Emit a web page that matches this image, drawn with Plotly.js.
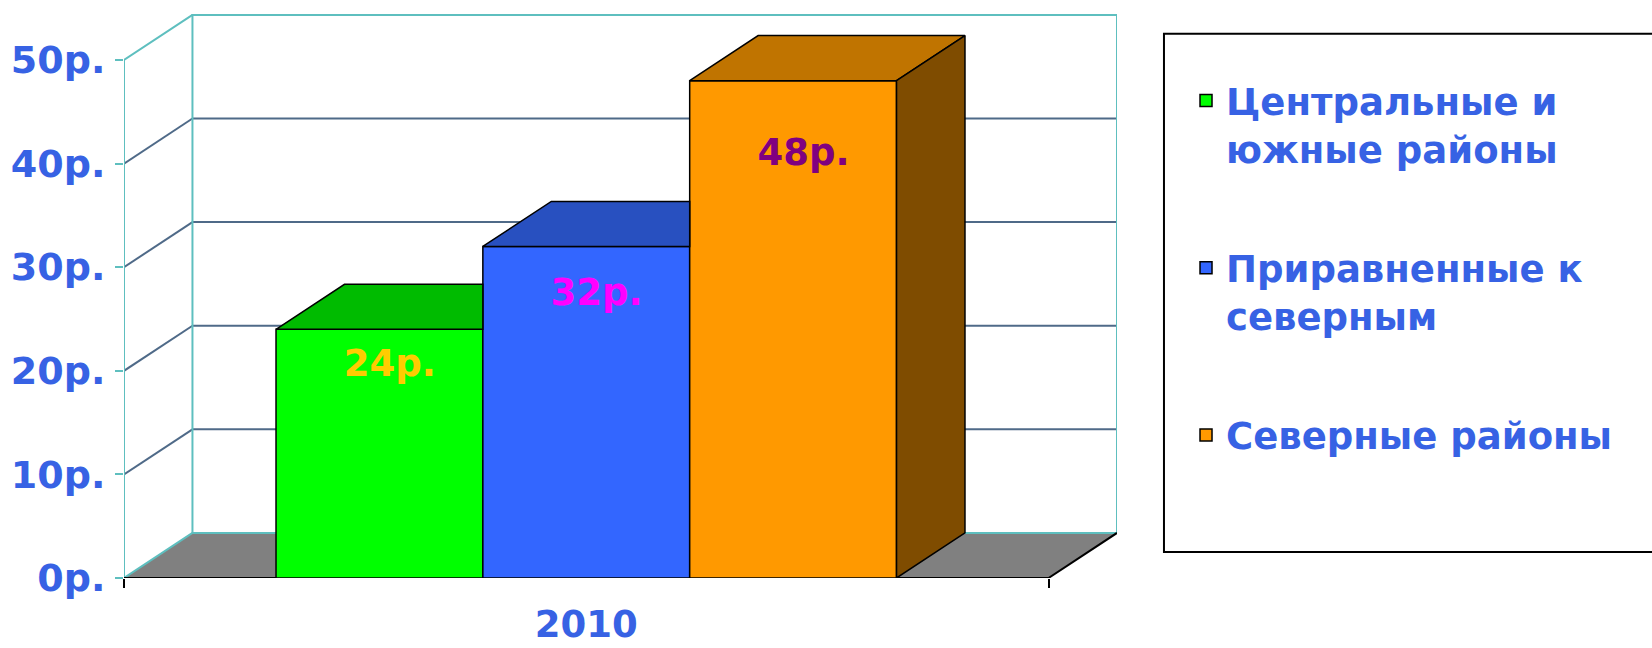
<!DOCTYPE html>
<html><head><meta charset="utf-8">
<script src="https://cdn.plot.ly/plotly-3.0.1.min.js"></script>
<style>html,body{margin:0;padding:0;background:#fff;}#chart{width:1652px;height:648px;}</style>
</head><body><div id="chart"></div>
<script>
// ---- data ----
const categories = ['2010'];
const seriesNames = ['Центральные и<br>южные районы', 'Приравненные к<br>северным', 'Северные районы'];
const seriesValues = [24, 32, 48];
const valueLabels = ['24р.', '32р.', '48р.'];
const yTickValues = [0, 10, 20, 30, 40, 50];
const yTickLabels = ['0р.', '10р.', '20р.', '30р.', '40р.', '50р.'];

// ---- style ----
const frontColors = ['#00FF00', '#3366FF', '#FF9900'];
const topColors = ['#00BB00', '#2850C0', '#C07400'];
const sideColors = ['#008800', '#1C3A8C', '#7F4C00'];
const labelColors = ['#FFCC00', '#FF00FF', '#800080'];
const TEXT_BLUE = '#3762E4';
const TEAL = '#5EBFBF';
const GRID = '#4F6A88';
const FONT = 'DejaVu Sans, Arial, sans-serif';
const FS = 37;

// ---- 3D geometry (axis units) ----
const BAR_W = 1, GAP = 0.735;
const FLOOR_W = 2 * GAP + seriesValues.length * BAR_W;
const DX = 0.331, DY = 4.35;
const YTOP = yTickValues[yTickValues.length - 1];

const traces = [];
seriesValues.forEach((v, i) => {
  const left = GAP + i * BAR_W;
  traces.push({
    type: 'bar', name: seriesNames[i], legendgroup: 'g' + i,
    x: [left + BAR_W / 2], y: [v], width: [BAR_W],
    marker: {color: frontColors[i], line: {color: '#000', width: 1.5}},
    hoverinfo: 'skip'
  });
});
seriesValues.forEach((v, i) => {
  const left = GAP + i * BAR_W, right = left + BAR_W;
  const next = seriesValues[i + 1];
  const hidden = next !== undefined && next >= v + DY;
  let tx, ty;
  if (hidden) {
    tx = [left, right, right, left + DX, left];
    ty = [v, v, v + DY, v + DY, v];
  } else {
    tx = [left, right, right + DX, left + DX, left];
    ty = [v, v, v + DY, v + DY, v];
  }
  traces.push({type: 'scatter', mode: 'lines', x: tx, y: ty, fill: 'toself',
    fillcolor: topColors[i], line: {color: '#000', width: 1.5}, showlegend: false, hoverinfo: 'skip'});
  if (!hidden) {
    traces.push({type: 'scatter', mode: 'lines',
      x: [right, right, right + DX, right + DX, right],
      y: [0, v, v + DY, DY, 0], fill: 'toself',
      fillcolor: sideColors[i], line: {color: '#000', width: 1.5}, showlegend: false, hoverinfo: 'skip'});
  }
});
traces.push({
  type: 'scatter', mode: 'text', showlegend: false, hoverinfo: 'skip',
  x: seriesValues.map((v, i) => GAP + i * BAR_W + BAR_W / 2 + 0.05),
  y: seriesValues.map(v => v * 0.85),
  text: valueLabels,
  textfont: {family: FONT, size: FS, weight: 'bold', color: labelColors}
});

// ---- walls / floor ----
const shapes = [];
const P = (x, y) => x + ',' + y;
shapes.push({type: 'path', layer: 'below', xref: 'x', yref: 'y',
  path: 'M' + P(0, 0) + 'L' + P(FLOOR_W, 0) + 'L' + P(FLOOR_W + DX, DY) + 'L' + P(DX, DY) + 'Z',
  fillcolor: '#808080', line: {width: 0}});
yTickValues.slice(1, -1).forEach(t => {
  shapes.push({type: 'line', layer: 'below', xref: 'x', yref: 'y', x0: 0, y0: t, x1: DX, y1: t + DY, line: {color: GRID, width: 2}});
  shapes.push({type: 'line', layer: 'below', xref: 'x', yref: 'y', x0: DX, y0: t + DY, x1: FLOOR_W + DX, y1: t + DY, line: {color: GRID, width: 2}});
});
shapes.push({type: 'path', layer: 'below', xref: 'x', yref: 'y',
  path: 'M' + P(DX, DY) + 'L' + P(DX, YTOP + DY) + 'L' + P(FLOOR_W + DX, YTOP + DY) + 'L' + P(FLOOR_W + DX, DY) + 'Z',
  line: {color: TEAL, width: 2}});
shapes.push({type: 'path', layer: 'below', xref: 'x', yref: 'y',
  path: 'M' + P(DX, DY) + 'L' + P(0, 0) + 'L' + P(0, YTOP) + 'L' + P(DX, YTOP + DY),
  line: {color: TEAL, width: 2}});
shapes.push({type: 'path', layer: 'below', xref: 'x', yref: 'y',
  path: 'M' + P(0, 0) + 'L' + P(FLOOR_W, 0) + 'L' + P(FLOOR_W + DX, DY),
  line: {color: '#000', width: 2}});
// legend frame
shapes.push({type: 'rect', xref: 'paper', yref: 'paper', x0: 1.0473, x1: 1.7, y0: 0.046, y1: 0.9617,
  line: {color: '#000', width: 2}, fillcolor: 'rgba(0,0,0,0)'});

const layout = {
  width: 1652, height: 648,
  margin: {l: 124, r: 535, t: 12, b: 70},
  paper_bgcolor: '#fff', plot_bgcolor: '#fff',
  barmode: 'overlay',
  showlegend: true,
  legend: {x: 1.0695, xanchor: 'left', y: 0.8975, yanchor: 'top',
    font: {family: FONT, size: FS, weight: 'bold', color: TEXT_BLUE},
    valign: 'top', traceorder: 'grouped', tracegroupgap: 68,
    bgcolor: 'rgba(0,0,0,0)', borderwidth: 0},
  xaxis: {range: [0, FLOOR_W + DX], tickmode: 'array', tickvals: [FLOOR_W / 2], ticktext: categories,
    ticks: '', showgrid: false, zeroline: false, showline: false, fixedrange: true,
    ticklabelstandoff: 21,
    tickfont: {family: FONT, size: FS, weight: 'bold', color: TEXT_BLUE},
    minor: {tickmode: 'array', tickvals: [0, FLOOR_W], ticks: 'outside', ticklen: 9, tickwidth: 2, tickcolor: '#000', showgrid: false}},
  yaxis: {range: [0, 54.63], tickmode: 'array', tickvals: yTickValues, ticktext: yTickLabels,
    ticks: 'outside', ticklen: 8, tickwidth: 2, tickcolor: TEAL,
    showgrid: false, zeroline: false, showline: false, fixedrange: true,
    ticklabelstandoff: 2,
    tickfont: {family: FONT, size: 38, weight: 'bold', color: TEXT_BLUE}},
  shapes: shapes
};
Plotly.newPlot('chart', traces, layout, {displayModeBar: false, staticPlot: true});
</script></body></html>
